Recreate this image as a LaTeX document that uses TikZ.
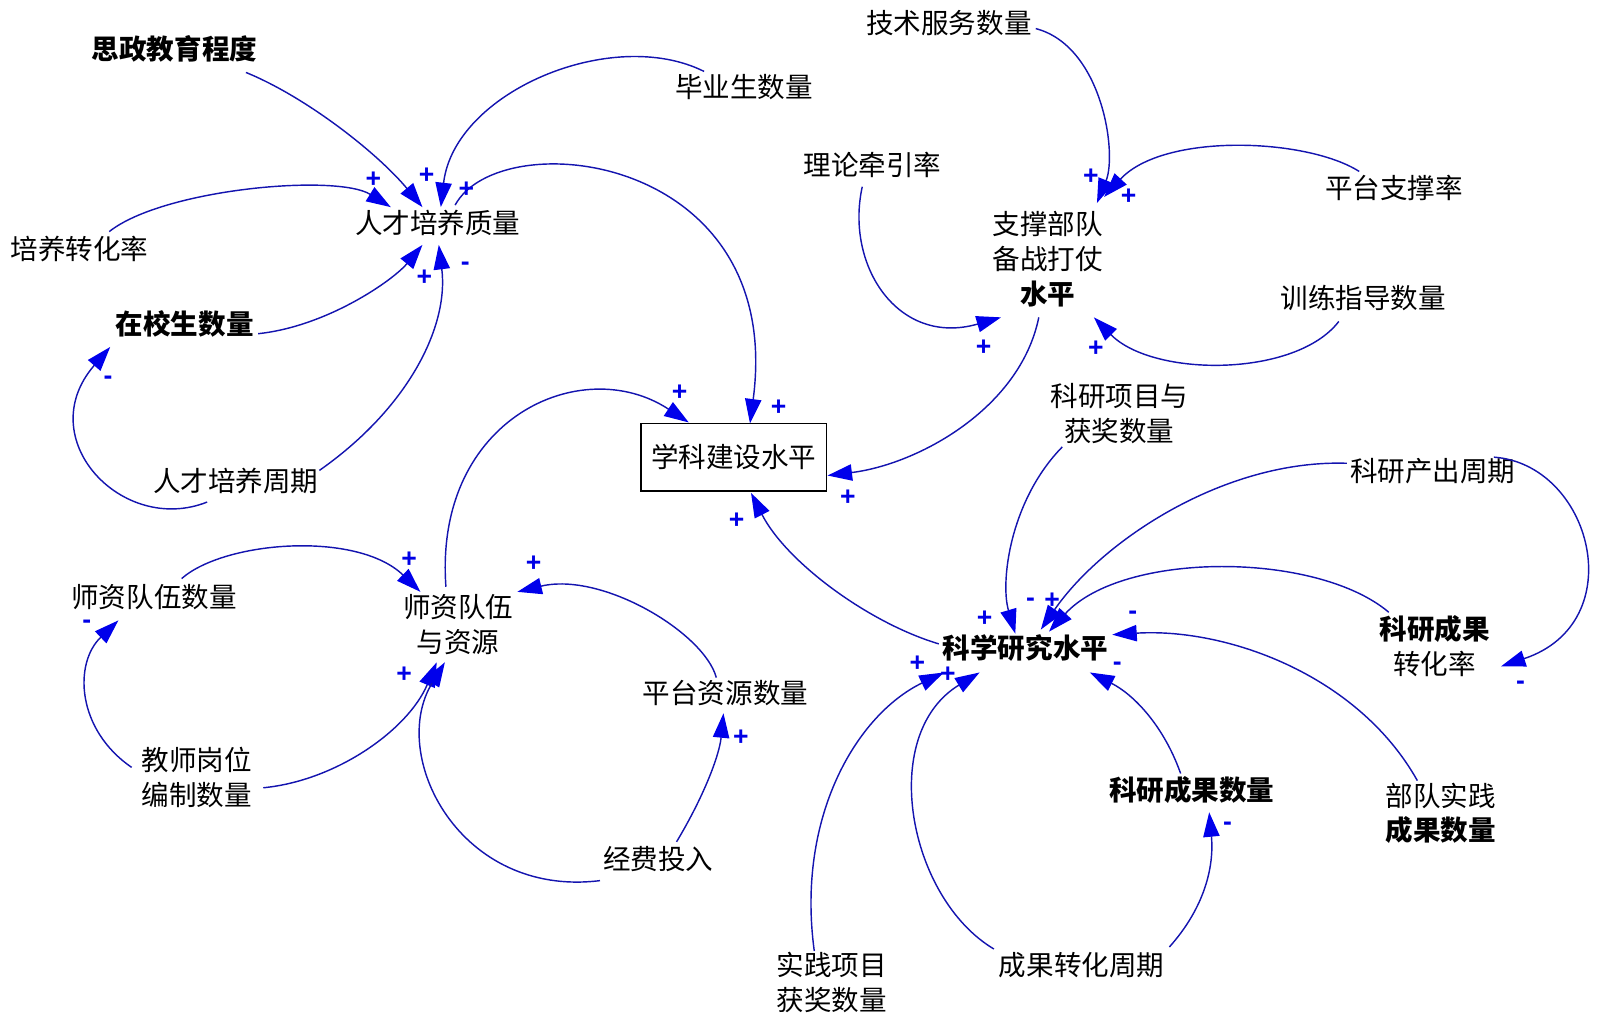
\documentclass[tikz,border=0pt]{standalone}
\usepackage{fontspec}
\setmainfont{Liberation Sans}
\newfontfamily\cjk{Noto Sans CJK SC}
\usetikzlibrary{arrows.meta}
\definecolor{lnblue}{RGB}{20,20,175}
\definecolor{tipblue}{RGB}{0,0,235}
\definecolor{lblblue}{RGB}{0,0,230}
\tikzset{
  var/.style={font=\cjk\fontsize{13.5}{17}\selectfont, align=center, inner sep=2pt, text=black},
  bvar/.style={font=\cjk\bfseries\fontsize{13.5}{17}\selectfont, align=center, inner sep=2pt, text=black},
  boxvar/.style={var, draw=black, line width=0.9pt, minimum width=91pt, minimum height=33pt},
  lnk/.style={draw=lnblue, line width=0.7pt, -{Triangle[length=12pt,width=8pt,color=tipblue]}},
  pol/.style={font=\bfseries\fontsize{13}{13}\selectfont, text=lblblue, inner sep=0pt},
}
\begin{document}
\begin{tikzpicture}[x=0.5pt,y=-0.5pt]
\useasboundingbox (0,0) rectangle (1568,1008);
% variables
\node[bvar] (szjy) at (171,48) {思政教育程度};
\node[var]  (bys)  at (729,85) {毕业生数量};
\node[var]  (pyzh) at (78,244) {培养转化率};
\node[var]  (rcpy) at (429,219) {人才培养质量};
\node[bvar] (zxs)  at (181,317) {在校生数量};
\node[var]  (rczq) at (231,471) {人才培养周期};
\node[var]  (jsfw) at (930,23) {技术服务数量};
\node[var]  (llqy) at (855,162) {理论牵引率};
\node[var]  (ptzc) at (1366,184) {平台支撑率};
\node[var]  (zcbd) at (1027,254) {支撑部队\\备战打仗\\{\bfseries 水平}};
\node[var]  (xlzd) at (1336,292) {训练指导数量};
\node[var]  (kyxm) at (1097,405) {科研项目与\\获奖数量};
\node[boxvar] (xkjs) at (719,448) {学科建设水平};
\node[var]  (kycc) at (1404,462) {科研产出周期};
\node[var]  (szdw) at (151,585) {师资队伍数量};
\node[var]  (szzy) at (449,612) {师资队伍\\与资源};
\node[var]  (ptzy) at (711,679) {平台资源数量};
\node[bvar] (kxyj) at (1005,635) {科学研究水平};
\node[var]  (kyzh) at (1406,633) {{\bfseries 科研成果}\\转化率};
\node[var]  (jsgw) at (193,762) {教师岗位\\编制数量};
\node[var]  (jftr) at (645,842) {经费投入};
\node[bvar] (kycg) at (1168,774) {科研成果数量};
\node[var]  (bdsj) at (1412,797) {部队实践\\{\bfseries 成果数量}};
\node[var]  (sjxm) at (815,963) {实践项目\\获奖数量};
\node[var]  (cgzh) at (1060,946) {成果转化周期};
% links
\draw[lnk] ([shift={(70,23)}]szjy.center) .. controls (300,95) and (370,150) .. ([shift={(-15,-16)}]rcpy.center);
\draw[lnk] ([shift={(-39,-15)}]bys.center) .. controls (600,25) and (445,90) .. ([shift={(3,-16)}]rcpy.center);
\draw[lnk] ([shift={(29,-17)}]pyzh.center) .. controls (160,185) and (330,170) .. ([shift={(-46,-16)}]rcpy.center);
\draw[lnk] ([shift={(17,-18)}]rcpy.center) .. controls (490,120) and (770,150) .. ([shift={(16,-33)}]xkjs.center);
\draw[lnk] ([shift={(72,10)}]zxs.center) .. controls (320,320) and (385,275) .. ([shift={(-15,21)}]rcpy.center);
\draw[lnk] ([shift={(82,-10)}]rczq.center) .. controls (400,400) and (440,320) .. ([shift={(1,21)}]rcpy.center);
\draw[lnk] ([shift={(-28,21)}]rczq.center) .. controls (120,525) and (30,430) .. ([shift={(-73,23)}]zxs.center);
\draw[lnk] ([shift={(85,5)}]jsfw.center) .. controls (1080,45) and (1095,150) .. ([shift={(48,-55)}]zcbd.center);
\draw[lnk] ([shift={(-34,-16)}]ptzc.center) .. controls (1280,135) and (1140,130) .. ([shift={(55,-61)}]zcbd.center);
\draw[lnk] ([shift={(-10,21)}]llqy.center) .. controls (828,260) and (880,340) .. ([shift={(-46,57)}]zcbd.center);
\draw[lnk] ([shift={(-24,23)}]xlzd.center) .. controls (1270,370) and (1130,370) .. ([shift={(45,57)}]zcbd.center);
\draw[lnk] ([shift={(-9,57)}]zcbd.center) .. controls (1000,400) and (900,455) .. ([shift={(92,18)}]xkjs.center);
\draw[lnk] ([shift={(-12,-37)}]szzy.center) .. controls (425,410) and (570,345) .. ([shift={(-44,-34)}]xkjs.center);
\draw[lnk] ([shift={(-85,-4)}]kxyj.center) .. controls (850,610) and (770,550) .. ([shift={(17,35)}]xkjs.center);
\draw[lnk] ([shift={(27,-18)}]szdw.center) .. controls (220,530) and (350,520) .. ([shift={(-37,-32)}]szzy.center);
\draw[lnk] ([shift={(-9,-15)}]ptzy.center) .. controls (690,620) and (590,560) .. ([shift={(58,-32)}]szzy.center);
\draw[lnk] ([shift={(65,10)}]jsgw.center) .. controls (330,765) and (400,715) .. ([shift={(-21,37)}]szzy.center);
\draw[lnk] ([shift={(-57,21)}]jftr.center) .. controls (450,880) and (380,740) .. ([shift={(-13,37)}]szzy.center);
\draw[lnk] ([shift={(-64,-10)}]jsgw.center) .. controls (75,715) and (72,650) .. ([shift={(-35,23)}]szdw.center);
\draw[lnk] ([shift={(18,-17)}]jftr.center) .. controls (690,780) and (705,740) .. ([shift={(-2,20)}]ptzy.center);
\draw[lnk] ([shift={(-56,33)}]kyxm.center) .. controls (990,490) and (980,570) .. ([shift={(-10,-14)}]kxyj.center);
\draw[lnk] ([shift={(-84,-8)}]kycc.center) .. controls (1200,450) and (1080,530) .. ([shift={(15,-18)}]kxyj.center);
\draw[lnk] ([shift={(-45,-33)}]kyzh.center) .. controls (1290,540) and (1100,540) .. ([shift={(23,-16)}]kxyj.center);
\draw[lnk] ([shift={(60,-14)}]kycc.center) .. controls (1560,455) and (1600,610) .. ([shift={(65,20)}]kyzh.center);
\draw[lnk] ([shift={(-23,-32)}]bdsj.center) .. controls (1330,660) and (1200,615) .. ([shift={(85,-13)}]kxyj.center);
\draw[lnk] ([shift={(-11,-16)}]kycg.center) .. controls (1140,710) and (1110,680) .. ([shift={(63,24)}]kxyj.center);
\draw[lnk] ([shift={(86,-18)}]cgzh.center) .. controls (1180,890) and (1190,850) .. ([shift={(17,22)}]kycg.center);
\draw[lnk] ([shift={(-86,-16)}]cgzh.center) .. controls (890,880) and (860,720) .. ([shift={(-45,24)}]kxyj.center);
\draw[lnk] ([shift={(-17,-31)}]sjxm.center) .. controls (780,800) and (840,700) .. ([shift={(-80,24)}]kxyj.center);
% polarities
\node[pol] (p1) at (366,176) {+};
\node[pol] (p2) at (418,172) {+};
\node[pol] (p3) at (457,186) {+};
\node[pol] (p4) at (416,272) {+};
\node[pol] (p5) at (456,261) {-};
\node[pol] (p6) at (106,373) {-};
\node[pol] (p7) at (666,385) {+};
\node[pol] (p8) at (763,400) {+};
\node[pol] (p9) at (831,488) {+};
\node[pol] (p10) at (722,510) {+};
\node[pol] (p11) at (1069,173) {+};
\node[pol] (p12) at (1106,193) {+};
\node[pol] (p13) at (964,341) {+};
\node[pol] (p14) at (1074,342) {+};
\node[pol] (p15) at (401,549) {+};
\node[pol] (p16) at (523,552) {+};
\node[pol] (p17) at (85,612) {-};
\node[pol] (p18) at (396,661) {+};
\node[pol] (p19) at (726,723) {+};
\node[pol] (p20) at (965,606) {+};
\node[pol] (p21) at (1010,590) {-};
\node[pol] (p22) at (1031,589) {+};
\node[pol] (p23) at (1110,603) {-};
\node[pol] (p24) at (899,650) {+};
\node[pol] (p25) at (929,661) {+};
\node[pol] (p26) at (1095,653) {-};
\node[pol] (p27) at (1490,672) {-};
\node[pol] (p28) at (1203,810) {-};
\end{tikzpicture}
\end{document}
